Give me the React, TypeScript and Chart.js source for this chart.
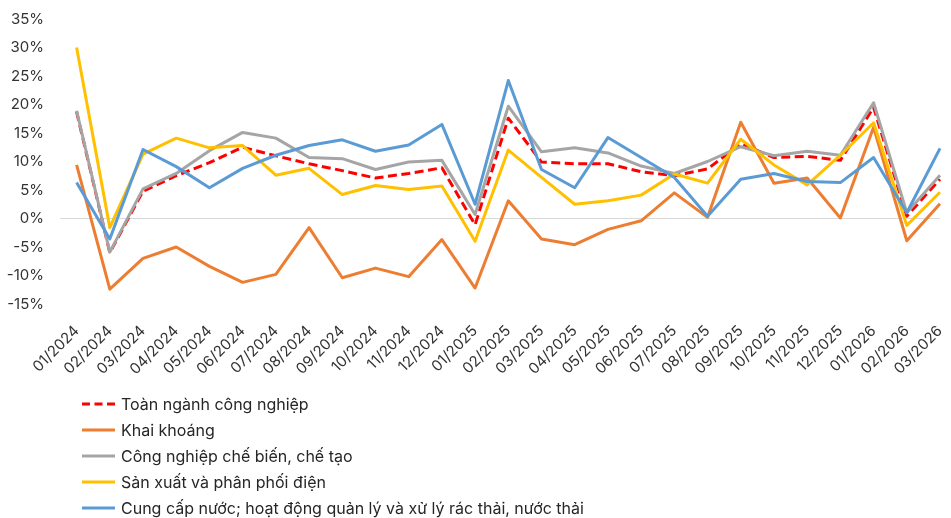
import React, { useEffect, useRef } from "react";
import { Chart, registerables } from "chart.js";

Chart.register(...registerables);

const months = [
  "01/2024", "02/2024", "03/2024", "04/2024", "05/2024", "06/2024", "07/2024", "08/2024", "09/2024",
  "10/2024", "11/2024", "12/2024", "01/2025", "02/2025", "03/2025", "04/2025", "05/2025", "06/2025",
  "07/2025", "08/2025", "09/2025", "10/2025", "11/2025", "12/2025", "01/2026", "02/2026", "03/2026",
];

const toanNganh = [18.7, -6.0, 4.8, 7.5, 9.8, 12.5, 11.0, 9.6, 8.4, 7.1, 7.9, 8.9, -1.1, 17.6, 9.9, 9.6, 9.6, 8.2, 7.5, 8.7, 13.1, 10.7, 10.9, 10.2, 19.5, 0.4, 6.9];
const khaiKhoang = [9.4, -12.4, -7.0, -5.0, -8.4, -11.2, -9.8, -1.6, -10.4, -8.7, -10.2, -3.7, -12.2, 3.1, -3.6, -4.6, -1.9, -0.4, 4.5, 0.2, 16.9, 6.2, 7.1, 0.1, 16.0, -3.9, 2.6];
const cheBien = [18.9, -5.9, 5.2, 7.9, 11.9, 15.1, 14.1, 10.7, 10.5, 8.6, 9.9, 10.2, 0.7, 19.7, 11.7, 12.4, 11.5, 9.2, 7.9, 10.0, 12.6, 11.0, 11.8, 11.1, 20.3, 1.0, 7.6];
const dien = [30.0, -1.6, 11.3, 14.1, 12.4, 12.8, 7.6, 8.8, 4.2, 5.8, 5.1, 5.7, -4.0, 12.0, 7.2, 2.5, 3.1, 4.1, 7.8, 6.2, 13.9, 9.4, 5.9, 11.1, 16.8, -1.2, 4.6];
const nuoc = [6.3, -3.6, 12.1, 9.1, 5.4, 8.8, 11.1, 12.8, 13.8, 11.8, 12.9, 16.5, 2.5, 24.2, 8.6, 5.4, 14.2, 10.7, 7.2, 0.4, 6.9, 7.9, 6.5, 6.3, 10.7, 1.0, 12.3];

const seriesNames = [
  "Toàn ngành công nghiệp",
  "Khai khoáng",
  "Công nghiệp chế biến, chế tạo",
  "Sản xuất và phân phối điện",
  "Cung cấp nước; hoạt động quản lý và xử lý rác thải, nước thải",
];
const seriesColors = ["#FF0000", "#ED7D31", "#A5A5A5", "#FFC000", "#5B9BD5"];
const seriesValues = [toanNganh, khaiKhoang, cheBien, dien, nuoc];

const yMin = -15;
const yMax = 35;
const yStep = 5;

const FONT = "Inter, 'DejaVu Sans', sans-serif";

export default function App() {
  const ref = useRef<HTMLCanvasElement | null>(null);

  useEffect(() => {
    const canvas = ref.current;
    if (!canvas) return;

    const legendPlugin = {
      id: "verticalLegend",
      afterDraw(chart: any) {
        const ctx = chart.ctx;
        ctx.save();
        seriesNames.forEach((name, i) => {
          const y = 404 + 26 * i;
          ctx.beginPath();
          ctx.strokeStyle = seriesColors[i];
          ctx.lineWidth = 3;
          ctx.setLineDash(i === 0 ? [8, 4.5] : []);
          ctx.moveTo(82, y);
          ctx.lineTo(115, y);
          ctx.stroke();
          ctx.setLineDash([]);
          ctx.fillStyle = "#262626";
          ctx.font = `16px ${FONT}`;
          ctx.textBaseline = "middle";
          ctx.textAlign = "left";
          ctx.fillText(name, 121, y + 1);
        });
        ctx.restore();
      },
    };

    const datasets = seriesValues.map((vals, i) => ({
      label: seriesNames[i],
      data: vals.map((v, idx) => ({ x: idx, y: v })),
      borderColor: seriesColors[i],
      backgroundColor: seriesColors[i],
      borderWidth: 3,
      borderDash: i === 0 ? [9, 4.5] : [],
      pointRadius: 0,
      tension: 0,
      fill: false,
      clip: false as any,
      order: 5 - i,
      borderJoinStyle: "round" as const,
    }));

    const chart = new Chart(canvas, {
      type: "line",
      data: { datasets },
      options: {
        responsive: false,
        animation: false,
        devicePixelRatio: 1,
        layout: { padding: { top: 19, right: 11, bottom: 0, left: 0 } },
        plugins: {
          legend: { display: false },
          tooltip: { enabled: false },
        },
        scales: {
          x: {
            type: "linear",
            min: -0.5,
            max: 26,
            afterBuildTicks: (scale: any) => {
              scale.ticks = months.map((_, i) => ({ value: i }));
            },
            afterFit: (scale: any) => {
              scale.height = 214;
              scale.paddingRight = 0;
              scale.paddingLeft = 0;
              scale.paddingTop = 0;
              scale.paddingBottom = 0;
            },
            grid: { display: false, drawTicks: false },
            border: { display: false },
            ticks: {
              autoSkip: false,
              minRotation: 45,
              maxRotation: 45,
              padding: 18,
              color: "#333333",
              font: { family: FONT, size: 15 },
              callback: (v: any) => months[v as number] ?? "",
            },
          },
          y: {
            min: yMin,
            max: yMax,
            afterFit: (scale: any) => {
              scale.width = 60;
              scale.paddingTop = 0;
              scale.paddingBottom = 0;
            },
            grid: {
              drawTicks: false,
              lineWidth: 1,
              color: (c: any) => (c.tick && c.tick.value === 0 ? "#D9D9D9" : "rgba(0,0,0,0)"),
            },
            border: { display: false },
            ticks: {
              stepSize: yStep,
              padding: 16,
              color: "#333333",
              font: { family: FONT, size: 15 },
              callback: (v: any) => `${v}%`,
            },
          },
        },
      },
      plugins: [legendPlugin],
    });

    return () => chart.destroy();
  }, []);

  return (
    <div style={{ position: "fixed", left: 0, top: 0, width: 951, height: 518, background: "#fff" }}>
      <canvas ref={ref} width={951} height={518} style={{ display: "block" }} />
    </div>
  );
}
